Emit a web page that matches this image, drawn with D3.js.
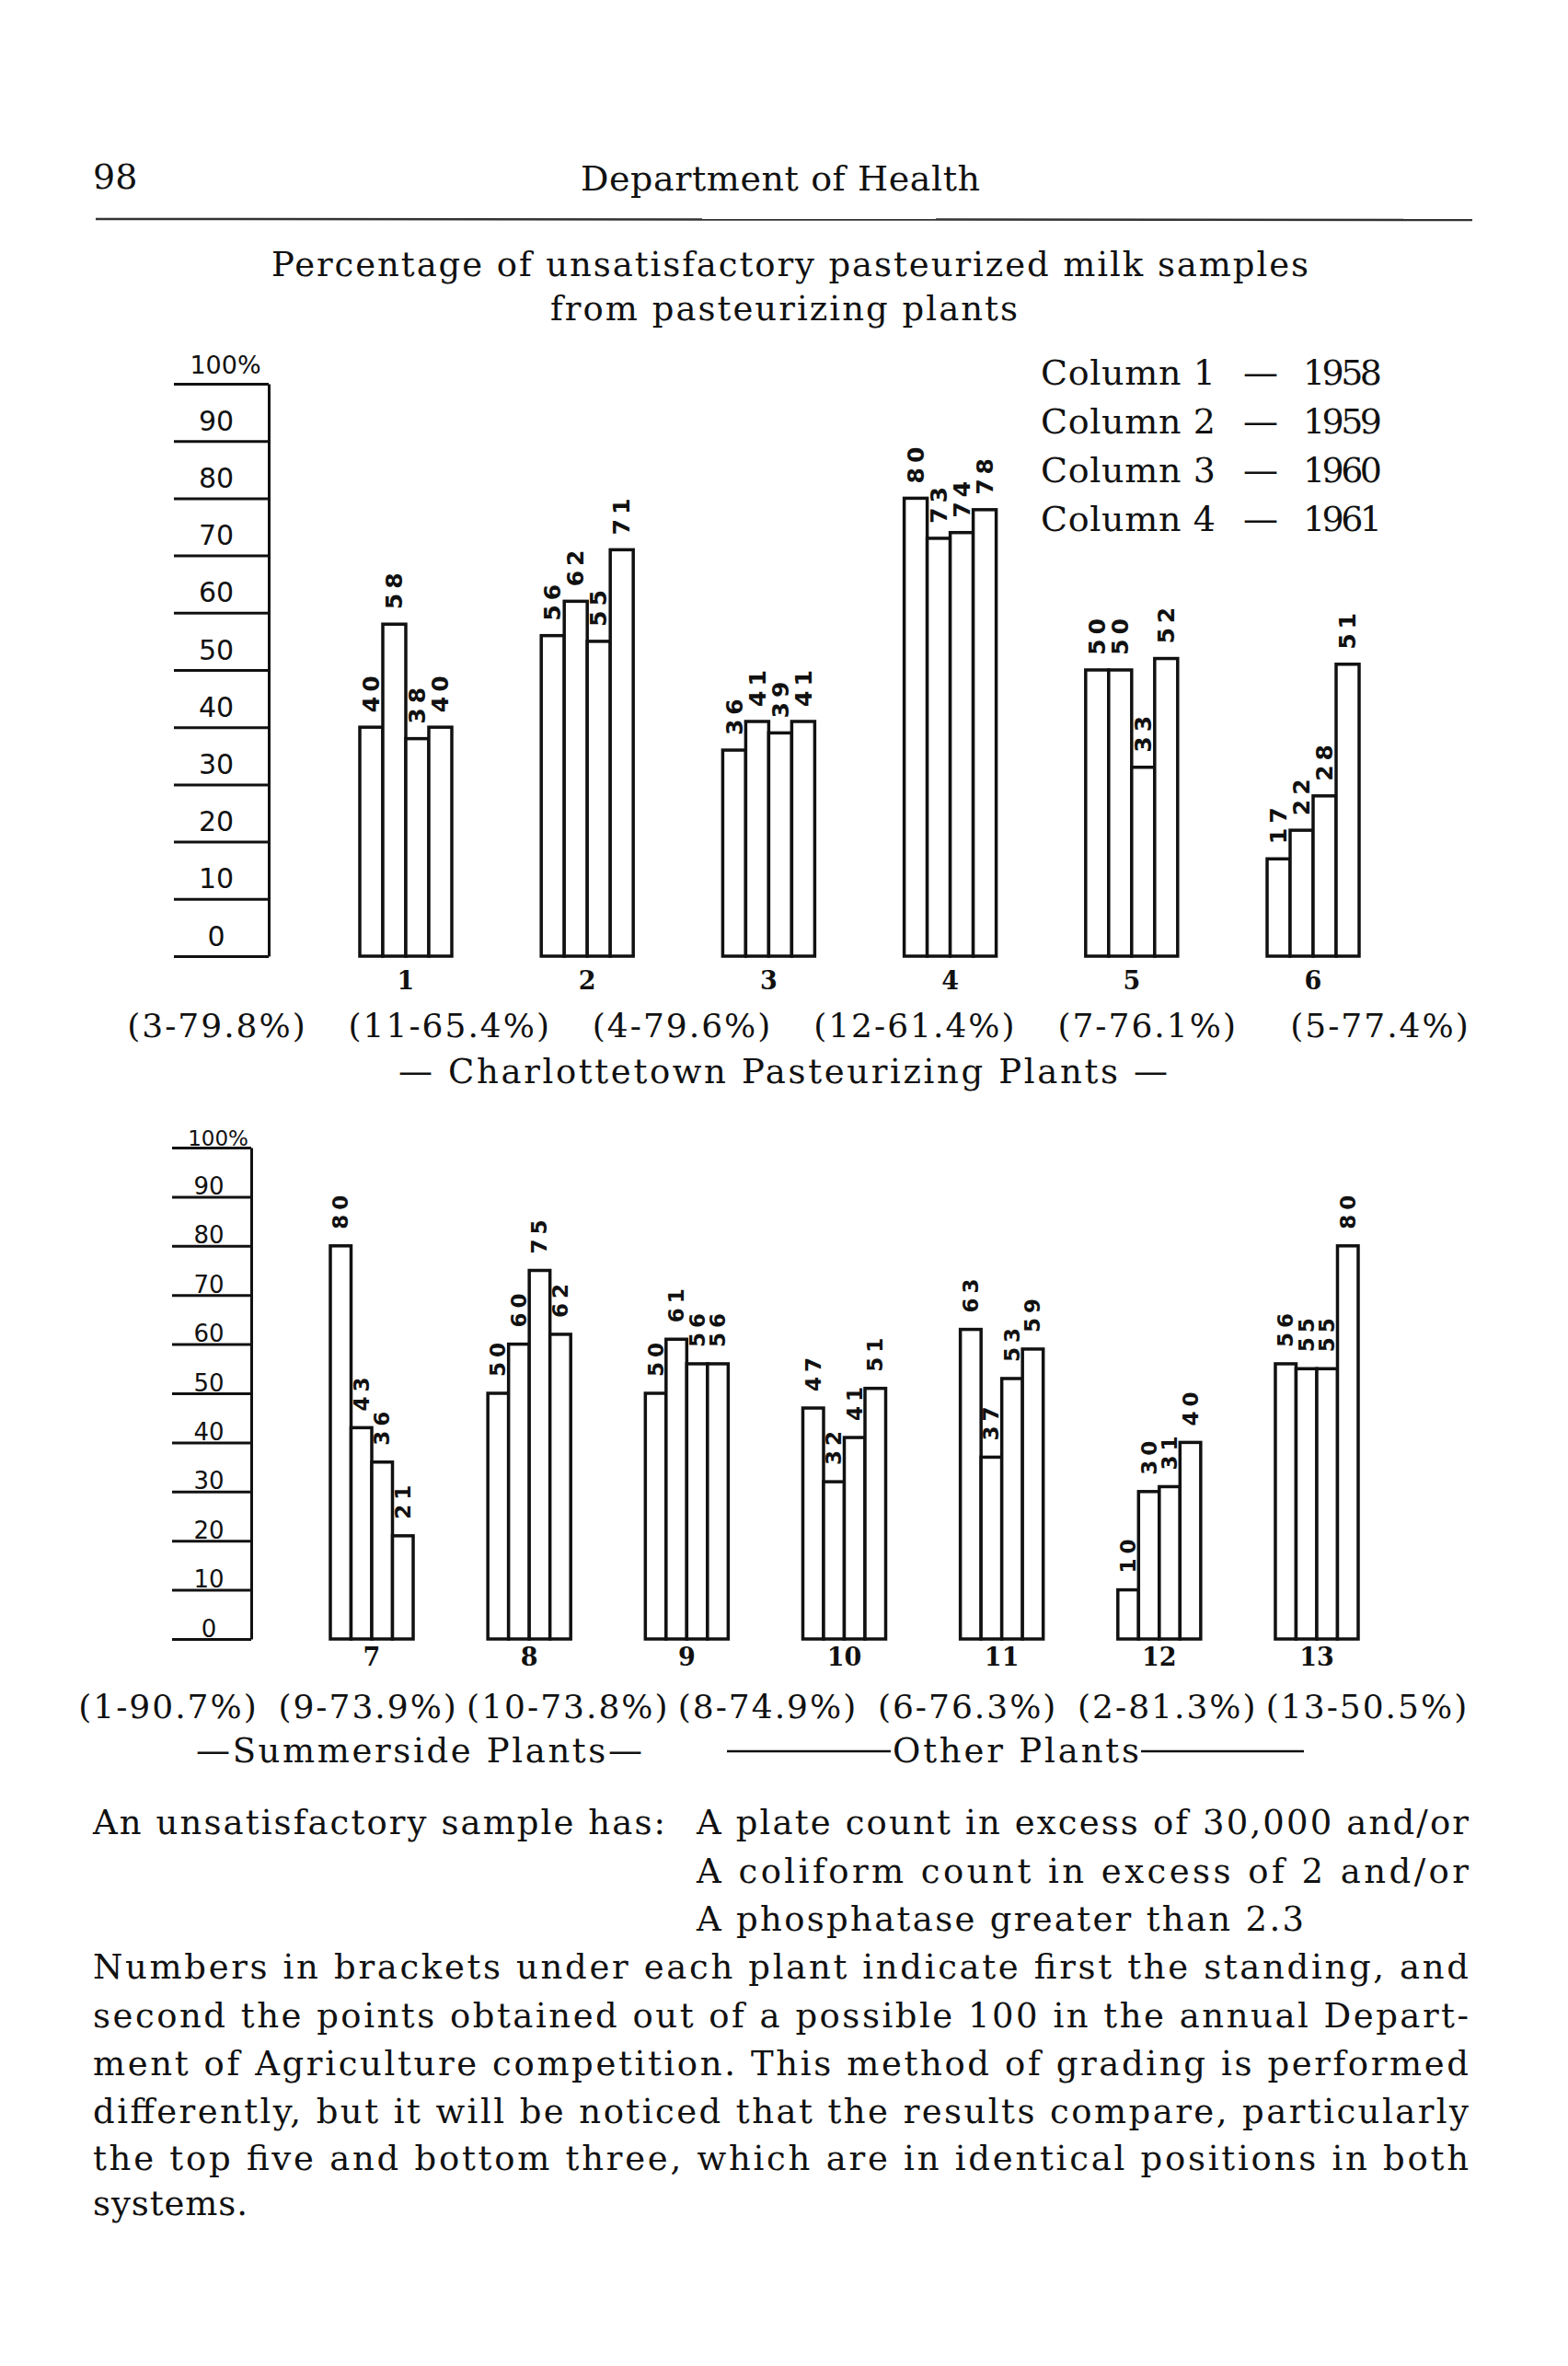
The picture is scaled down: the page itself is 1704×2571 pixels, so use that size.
<!DOCTYPE html>
<html>
<head>
<meta charset="utf-8">
<script src="https://cdn.jsdelivr.net/npm/d3@7"></script>
<style>
  body { margin: 0; background: #fff; }
  svg { display: block; }
</style>
</head>
<body>
<script>
// data
var years = ["1958", "1959", "1960", "1961"];
var yTicks = [0, 10, 20, 30, 40, 50, 60, 70, 80, 90, 100];

var topPlants = ["1", "2", "3", "4", "5", "6"];
var top1958 = [40, 56, 36, 80, 50, 17];
var top1959 = [58, 62, 41, 73, 50, 22];
var top1960 = [38, 55, 39, 74, 33, 28];
var top1961 = [40, 71, 41, 78, 52, 51];
var topRatings = ["(3-79.8%)", "(11-65.4%)", "(4-79.6%)", "(12-61.4%)", "(7-76.1%)", "(5-77.4%)"];

var bottomPlants = ["7", "8", "9", "10", "11", "12", "13"];
var bottom1958 = [80, 50, 50, 47, 63, 10, 56];
var bottom1959 = [43, 60, 61, 32, 37, 30, 55];
var bottom1960 = [36, 75, 56, 41, 53, 31, 55];
var bottom1961 = [21, 62, 56, 51, 59, 40, 80];
var bottomRatings = ["(1-90.7%)", "(9-73.9%)", "(10-73.8%)", "(8-74.9%)", "(6-76.3%)", "(2-81.3%)", "(13-50.5%)"];

var serif = "'DejaVu Serif', serif",
  sans = "'DejaVu Sans', sans-serif",
  ink = "#111";

var svg = d3.select("body").append("svg")
  .attr("width", 1704)
  .attr("height", 2571)
  .style("background", "#fff");

// page header
svg.append("text").attr("x", 101).attr("y", 205)
  .attr("font-family", serif).attr("font-size", 38).attr("fill", ink)
  .text("98");
svg.append("text").attr("x", 631).attr("y", 207)
  .attr("font-family", serif).attr("font-size", 38).attr("fill", ink)
  .attr("textLength", 434).attr("lengthAdjust", "spacing")
  .text("Department of Health");
svg.append("line")
  .attr("x1", 104).attr("x2", 1600).attr("y1", 238).attr("y2", 239)
  .attr("stroke", "#333").attr("stroke-width", 2.5);

// chart title
svg.append("text").attr("x", 295).attr("y", 300)
  .attr("font-family", serif).attr("font-size", 37).attr("fill", ink)
  .attr("textLength", 1127).attr("lengthAdjust", "spacing")
  .text("Percentage of unsatisfactory pasteurized milk samples");
svg.append("text").attr("x", 598).attr("y", 348)
  .attr("font-family", serif).attr("font-size", 37).attr("fill", ink)
  .attr("textLength", 508).attr("lengthAdjust", "spacing")
  .text("from pasteurizing plants");

// legend
var legend = svg.append("g").selectAll("g")
  .data(years)
  .enter().append("g")
    .attr("transform", function(d, i) { return "translate(0," + (418 + i * 53) + ")"; })
    .attr("font-family", serif).attr("font-size", 38).attr("fill", ink);
legend.append("text").attr("x", 1131)
  .attr("textLength", 190).attr("lengthAdjust", "spacing")
  .text(function(d, i) { return "Column " + (i + 1); });
legend.append("text").attr("x", 1370).attr("text-anchor", "middle")
  .text("\u2014");
legend.append("text").attr("x", 1416)
  .attr("textLength", 86).attr("lengthAdjust", "spacing")
  .text(function(d) { return d; });

function drawPanel(opt) {
  var g = svg.append("g");

  var x = d3.scaleBand()
    .domain(opt.plants)
    .range(opt.xRange)
    .paddingInner(opt.padInner)
    .paddingOuter(0);

  var xIn = d3.scaleBand()
    .domain(years)
    .range([0, x.bandwidth()]);

  var y = d3.scaleLinear()
    .domain([0, 100])
    .range(opt.yRange);

  var rows = opt.plants.map(function(p, i) {
    return {plant: p, values: opt.series.map(function(s) { return s[i]; })};
  });

  // the ruled scale on the left
  var axis = g.append("g")
    .attr("transform", "translate(" + opt.axisX + ",0)")
    .call(d3.axisLeft(y)
      .tickValues(yTicks)
      .tickSize(opt.tickLen)
      .tickSizeOuter(0)
      .tickFormat(function(d) { return d === 100 ? "100%" : d; }));
  axis.attr("font-family", sans).attr("font-size", opt.axisFont);
  axis.select(".domain").attr("stroke", ink).attr("stroke-width", 3);
  axis.selectAll(".tick line").attr("stroke", ink).attr("stroke-width", 3);
  axis.selectAll(".tick text")
    .attr("fill", ink)
    .attr("text-anchor", "middle")
    .attr("dy", 0)
    .attr("x", function(d) { return d === 100 ? opt.labelX + 10 : opt.labelX; })
    .attr("y", -opt.labelLift)
    .attr("font-size", function(d) { return d === 100 ? opt.axisFont - 3 : opt.axisFont; });

  var groups = g.selectAll(".plant")
    .data(rows)
    .enter().append("g")
      .attr("class", "plant")
      .attr("transform", function(d) { return "translate(" + x(d.plant) + ",0)"; });

  groups.selectAll("rect")
    .data(function(d) { return d.values; })
    .enter().append("rect")
      .attr("x", function(d, i) { return xIn(years[i]); })
      .attr("y", function(d) { return y(d); })
      .attr("width", xIn.bandwidth())
      .attr("height", function(d) { return y(0) - y(d); })
      .attr("fill", "#fff")
      .attr("stroke", ink)
      .attr("stroke-width", 3.5);

  // handwritten values, written upward above each column
  groups.selectAll(".val")
    .data(function(d) { return d.values; })
    .enter().append("text")
      .attr("class", "val")
      .attr("transform", function(d, i) {
        var cx = xIn(years[i]) + xIn.bandwidth() / 2;
        return "translate(" + cx + "," + (y(d) - opt.valueGap) + ") rotate(-90)";
      })
      .attr("dy", "0.35em")
      .attr("font-family", sans)
      .attr("font-weight", "bold")
      .attr("font-size", opt.valueFont)
      .attr("letter-spacing", 5)
      .attr("fill", ink)
      .text(function(d) { return d; });

  // plant numbers
  groups.append("text")
    .attr("x", x.bandwidth() / 2)
    .attr("y", opt.numberY)
    .attr("text-anchor", "middle")
    .attr("font-family", serif)
    .attr("font-weight", "bold")
    .attr("font-size", 27)
    .attr("fill", ink)
    .text(function(d) { return d.plant; });

  // standing and points
  var xr = d3.scalePoint().domain(opt.plants).range(opt.ratingRange);
  g.selectAll(".rating")
    .data(opt.ratings)
    .enter().append("text")
      .attr("class", "rating")
      .attr("x", function(d, i) { return xr(opt.plants[i]); })
      .attr("y", opt.ratingY)
      .attr("text-anchor", "middle")
      .attr("font-family", serif)
      .attr("font-size", 36)
      .attr("letter-spacing", 2)
      .attr("fill", ink)
      .text(function(d) { return d; });
}

drawPanel({
  plants: topPlants,
  series: [top1958, top1959, top1960, top1961],
  ratings: topRatings,
  xRange: [391, 1477],
  padInner: 0.493,
  yRange: [1039, 417],
  axisX: 292,
  tickLen: 103,
  labelX: -57,
  labelLift: 12,
  axisFont: 30,
  valueFont: 25,
  valueGap: 16,
  numberY: 1075,
  ratingRange: [236, 1500],
  ratingY: 1127
});

svg.append("text").attr("x", 433).attr("y", 1177)
  .attr("font-family", serif).attr("font-size", 37).attr("fill", ink)
  .attr("textLength", 836).attr("lengthAdjust", "spacing")
  .text("\u2014 Charlottetown Pasteurizing Plants \u2014");

drawPanel({
  plants: bottomPlants,
  series: [bottom1958, bottom1959, bottom1960, bottom1961],
  ratings: bottomRatings,
  xRange: [359, 1476],
  padInner: 0.474,
  yRange: [1781, 1247],
  axisX: 273,
  tickLen: 86,
  labelX: -46,
  labelLift: 3,
  axisFont: 26,
  valueFont: 23,
  valueGap: 18,
  numberY: 1810,
  ratingRange: [183, 1486],
  ratingY: 1867
});

svg.append("text").attr("x", 213).attr("y", 1915)
  .attr("font-family", serif).attr("font-size", 37).attr("fill", ink)
  .attr("textLength", 485).attr("lengthAdjust", "spacing")
  .text("\u2014Summerside Plants\u2014");
svg.append("text").attr("x", 970).attr("y", 1915)
  .attr("font-family", serif).attr("font-size", 37).attr("fill", ink)
  .attr("textLength", 268).attr("lengthAdjust", "spacing")
  .text("Other Plants");
svg.append("line").attr("x1", 790).attr("x2", 968).attr("y1", 1903).attr("y2", 1903)
  .attr("stroke", ink).attr("stroke-width", 2.5);
svg.append("line").attr("x1", 1240).attr("x2", 1417).attr("y1", 1903).attr("y2", 1903)
  .attr("stroke", ink).attr("stroke-width", 2.5);

// note under the chart
function noteLine(str, x, yy, len) {
  var t = svg.append("text").attr("x", x).attr("y", yy)
    .attr("font-family", serif).attr("font-size", 37).attr("fill", ink)
    .text(str);
  if (len) t.attr("textLength", len).attr("lengthAdjust", "spacing");
}
noteLine("An unsatisfactory sample has:", 101, 1993, 622);
noteLine("A plate count in excess of 30,000 and/or", 757, 1993, 839);
noteLine("A coliform count in excess of 2 and/or", 757, 2046, 839);
noteLine("A phosphatase greater than 2.3", 757, 2098, 660);
noteLine("Numbers in brackets under each plant indicate first the standing, and", 101, 2150, 1495);
noteLine("second the points obtained out of a possible 100 in the annual Depart-", 101, 2203, 1495);
noteLine("ment of Agriculture competition. This method of grading is performed", 101, 2255, 1495);
noteLine("differently, but it will be noticed that the results compare, particularly", 101, 2307, 1495);
noteLine("the top five and bottom three, which are in identical positions in both", 101, 2358, 1495);
noteLine("systems.", 101, 2407, 168);
</script>
</body>
</html>
